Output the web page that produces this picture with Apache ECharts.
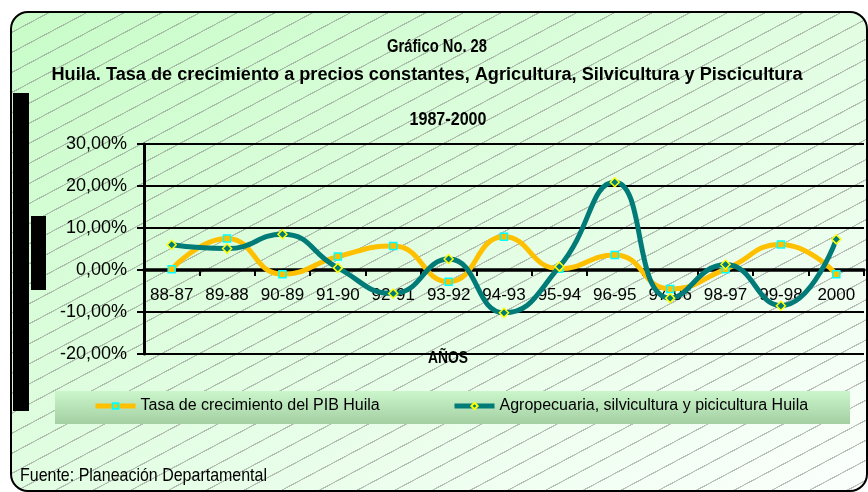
<!DOCTYPE html>
<html>
<head>
<meta charset="utf-8">
<script src="https://cdn.jsdelivr.net/npm/echarts@6/dist/echarts.min.js"></script>
<style>
  html, body { margin: 0; padding: 0; background: #fff; }
  #wrap { position: relative; width: 868px; height: 492px; overflow: hidden; }
  /* fondo verde con rayado diagonal y borde redondeado */
  #bg {
    position: absolute; left: 10px; top: 11px; width: 858px; height: 481px;
    box-sizing: border-box; border: 2px solid #000; border-radius: 18px;
    background:
      repeating-linear-gradient(152deg, rgba(0,0,0,0) 0px, rgba(0,0,0,0) 16.3px, rgba(125,125,125,0.5) 16.5px, rgba(125,125,125,0.5) 17.5px, rgba(0,0,0,0) 17.7px),
      linear-gradient(to bottom right, #c8fcc8, #fbfffc);
  }
  #chart { position: absolute; left: 0; top: 0; width: 868px; height: 492px; }
</style>
</head>
<body>
<div id="wrap">
  <div id="bg"></div>
  <div id="chart"></div>
</div>
<script>
// datos
const categories = ['88-87', '89-88', '90-89', '91-90', '92-91', '93-92', '94-93', '95-94', '96-95', '97-96', '98-97', '99-98', '2000'];
const pibHuila = [0.2, 7.5, -1.0, 3.2, 5.7, -2.8, 7.9, 0.3, 3.6, -4.5, 0.2, 6.1, -1.0];
const agroHuila = [6.0, 5.1, 8.5, 0.5, -5.6, 2.6, -10.2, 0.8, 20.9, -6.7, 1.3, -8.5, 7.3];
const seriesNames = ['Tasa de crecimiento del PIB Huila', 'Agropecuaria, silvicultura y picicultura Huila'];
const yMin = -20, yMax = 30, yStep = 10;

const ARIAL = '"Liberation Sans", Arial, sans-serif';

// grid
const gridTop = 144, gridBottom = 138, chartH = 492;
const plotH = chartH - gridTop - gridBottom;
// el eje x cruza en 0 -> se desplaza hacia arriba
const zeroOffset = -plotH * (0 - yMin) / (yMax - yMin);

const chart = echarts.init(document.getElementById('chart'), null, {renderer: 'canvas'});

// texto "angosto": se escala en x para imitar Arial Narrow
const measureCtx = document.createElement('canvas').getContext('2d');
function label(text, x, y, size, bold, width, align) {
  const weight = bold ? 'bold' : 'normal';
  measureCtx.font = weight + ' ' + size + 'px "Liberation Sans", Arial';
  const sx = width / measureCtx.measureText(text).width;
  return {
    type: 'text', x: x, y: y, z: 10, scaleX: sx,
    style: {
      text: text, fill: '#000',
      fontFamily: ARIAL, fontSize: size, fontWeight: weight,
      align: align || 'center', textAlign: align || 'center',
      verticalAlign: 'middle', textVerticalAlign: 'middle'
    }
  };
}

const option = {
  animation: false,
  backgroundColor: 'transparent',
  grid: {left: 144, right: 4, top: gridTop, bottom: gridBottom},
  graphic: [
    // barras negras a la izquierda
    {type: 'rect', z: 0, shape: {x: 13, y: 93, width: 16, height: 318}, style: {fill: '#000'}},
    {type: 'rect', z: 0, shape: {x: 31, y: 216, width: 15, height: 74}, style: {fill: '#000'}},
    // caja de la leyenda
    {
      type: 'rect', z: 0, shape: {x: 55, y: 391, width: 795, height: 33},
      style: {
        fill: new echarts.graphic.LinearGradient(0, 0, 0, 1, [
          {offset: 0, color: '#cbf6cb'},
          {offset: 1, color: '#a3cfa3'}
        ])
      }
    },
    label('Gráfico No. 28', 437, 47, 18, true, 100),
    label('Huila. Tasa de crecimiento a precios constantes, Agricultura, Silvicultura y Piscicultura', 427, 75, 18, true, 751),
    label('1987-2000', 448, 120, 18, true, 77),
    label('AÑOS', 448, 358, 17, true, 40),
    label('Fuente: Planeación Departamental', 20, 476, 19, false, 247, 'left')
  ],
  legend: [
    {
      data: [seriesNames[0]], left: 93, top: 398, padding: 0,
      itemWidth: 40, itemHeight: 7, itemGap: 0,
      lineStyle: {width: 5},
      textStyle: {fontFamily: ARIAL, fontSize: 16, color: '#000'}
    },
    {
      data: [seriesNames[1]], left: 452, top: 398, padding: 0,
      itemWidth: 40, itemHeight: 8, itemGap: 0,
      lineStyle: {width: 5},
      textStyle: {fontFamily: ARIAL, fontSize: 16, color: '#000'}
    }
  ],
  xAxis: {
    type: 'category',
    data: categories,
    boundaryGap: true,
    offset: zeroOffset,
    axisLine: {onZero: false, lineStyle: {color: '#000', width: 3.5}},
    axisTick: {show: true, interval: 0, length: 6, lineStyle: {color: '#000', width: 2}},
    axisLabel: {interval: 0, margin: 17, fontSize: 17, fontFamily: ARIAL, color: '#000'}
  },
  yAxis: {
    type: 'value',
    min: yMin, max: yMax, interval: yStep,
    axisLine: {show: true, lineStyle: {color: '#000', width: 3}},
    axisTick: {show: true, length: 7, lineStyle: {color: '#000', width: 2}},
    axisLabel: {
      margin: 17, fontSize: 18, fontFamily: ARIAL, color: '#000',
      formatter: function (v) { return v.toFixed(2).replace('.', ',') + '%'; }
    },
    splitLine: {lineStyle: {color: '#000', width: 2}}
  },
  series: [
    {
      name: seriesNames[0], type: 'line', data: pibHuila, smooth: 0.5,
      symbol: 'rect', symbolSize: 7, z: 3,
      lineStyle: {color: '#FFC000', width: 5},
      itemStyle: {color: '#FFC000', borderColor: '#00FFFF', borderWidth: 1.5}
    },
    {
      name: seriesNames[1], type: 'line', data: agroHuila, smooth: 0.5,
      symbol: 'diamond', symbolSize: 9, z: 4,
      lineStyle: {color: '#007B78', width: 5},
      itemStyle: {color: '#007B78', borderColor: '#FFFF00', borderWidth: 1.5}
    }
  ]
};

chart.setOption(option);
</script>
</body>
</html>
